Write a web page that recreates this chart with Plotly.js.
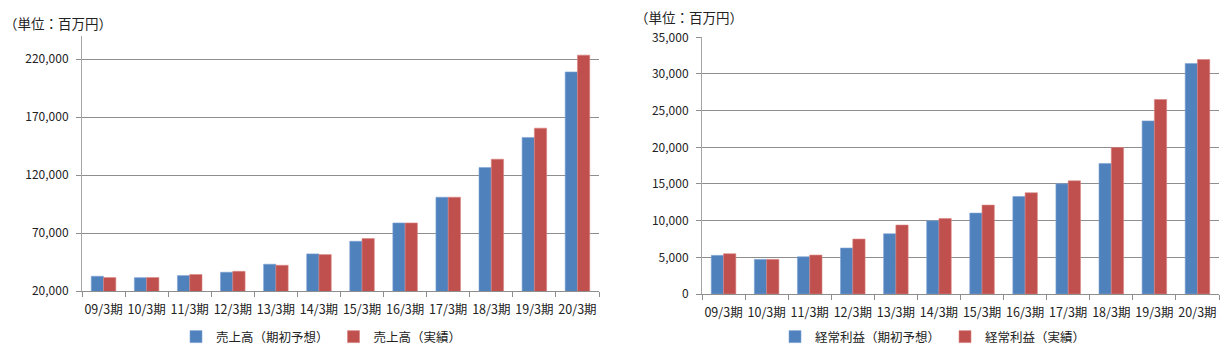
<!DOCTYPE html>
<html>
<head>
<meta charset="utf-8">
<script src="https://cdn.plot.ly/plotly-3.0.1.min.js"></script>
<style>html,body{margin:0;padding:0;background:#fff;}#chart{width:1228px;height:356px;}</style>
</head>
<body>
<div id="chart"></div>
<script>
const categories = ['09/3期','10/3期','11/3期','12/3期','13/3期','14/3期','15/3期','16/3期','17/3期','18/3期','19/3期','20/3期'];
const salesForecast = [32700, 31500, 33300, 36200, 43100, 52000, 62900, 78700, 100900, 126500, 152500, 209000];
const salesActual   = [31600, 31600, 34200, 37000, 42200, 51400, 65200, 78700, 100900, 133700, 160500, 223500];
const profitForecast = [5270, 4720, 5080, 6270, 8220, 9980, 11030, 13300, 15020, 17800, 23600, 31420];
const profitActual   = [5490, 4720, 5310, 7490, 9400, 10300, 12120, 13800, 15430, 19980, 26520, 31970];
const seriesNames = ['売上高（期初予想）','売上高（実績）','経常利益（期初予想）','経常利益（実績）'];
const unitLabel = '（単位：百万円）';

const BLUE = '#4F81BD', RED = '#C0504D';
const FONT = '"Noto Sans CJK JP", "Noto Sans", sans-serif';
const W = 1228, H = 356;
const px = v => v / W, py = v => (H - v) / H;

const traces = [
  {type:'bar', x:categories, y:salesForecast, name:seriesNames[0], marker:{color:BLUE, line:{color:'#7FA3D3', width:0.6}}, xaxis:'x', yaxis:'y', legend:'legend'},
  {type:'bar', x:categories, y:salesActual, name:seriesNames[1], marker:{color:RED, line:{color:'#D98583', width:0.6}}, xaxis:'x', yaxis:'y', legend:'legend'},
  {type:'bar', x:categories, y:profitForecast, name:seriesNames[2], marker:{color:BLUE, line:{color:'#7FA3D3', width:0.6}}, xaxis:'x2', yaxis:'y2', legend:'legend2'},
  {type:'bar', x:categories, y:profitActual, name:seriesNames[3], marker:{color:RED, line:{color:'#D98583', width:0.6}}, xaxis:'x2', yaxis:'y2', legend:'legend2'}
];

const xCommon = {
  type:'category', tickson:'boundaries', ticks:'outside', ticklen:5, tickcolor:'#8E8E8E',
  showline:true, linecolor:'#8E8E8E', linewidth:1, showgrid:false, zeroline:false,
  tickangle:0, tickfont:{size:12.5, color:'#222', family:FONT}, ticklabelstandoff:7, fixedrange:true
};
const yCommon = {
  ticks:'outside', ticklen:5, tickcolor:'#8E8E8E', showline:true, linecolor:'#A6A6A6', linewidth:1,
  showgrid:true, gridcolor:'#8E8E8E', gridwidth:1, zeroline:false, tickformat:',d',
  tickfont:{size:12, color:'#222', family:FONT}, ticklabelstandoff:5, fixedrange:true
};

const layout = {
  width:W, height:H, margin:{l:0,r:0,t:0,b:0},
  paper_bgcolor:'#fff', plot_bgcolor:'rgba(0,0,0,0)',
  font:{family:FONT, size:12, color:'#222'},
  barmode:'group', bargap:0.43, bargroupgap:0,
  xaxis: Object.assign({}, xCommon, {domain:[px(82), px(599)], anchor:'y'}),
  yaxis: Object.assign({}, yCommon, {domain:[(H-291)/H, (H-36)/H], range:[20000,240000], tick0:20000, dtick:50000, anchor:'x'}),
  xaxis2: Object.assign({}, xCommon, {domain:[px(702), px(1219)], anchor:'y2'}),
  yaxis2: Object.assign({}, yCommon, {domain:[(H-294)/H, (H-37.3)/H], range:[0,35000], tick0:0, dtick:5000, anchor:'x2'}),
  showlegend:true,
  legend:{orientation:'h', x:px(176), xanchor:'left', y:py(337), yanchor:'middle', bgcolor:'rgba(0,0,0,0)', font:{size:12.5, family:FONT, color:'#222'}, itemclick:false},
  legend2:{orientation:'h', x:px(775), xanchor:'left', y:py(337), yanchor:'middle', bgcolor:'rgba(0,0,0,0)', font:{size:12.5, family:FONT, color:'#222'}, itemclick:false},
  annotations:[
    {text:unitLabel, xref:'paper', yref:'paper', x:px(2), y:py(22.7), xanchor:'left', yanchor:'middle', showarrow:false, font:{size:13.5, color:'#222', family:FONT}},
    {text:unitLabel, xref:'paper', yref:'paper', x:px(633), y:py(17), xanchor:'left', yanchor:'middle', showarrow:false, font:{size:13.5, color:'#222', family:FONT}}
  ]
};

Plotly.newPlot('chart', traces, layout, {displayModeBar:false, staticPlot:true});
</script>
</body>
</html>
